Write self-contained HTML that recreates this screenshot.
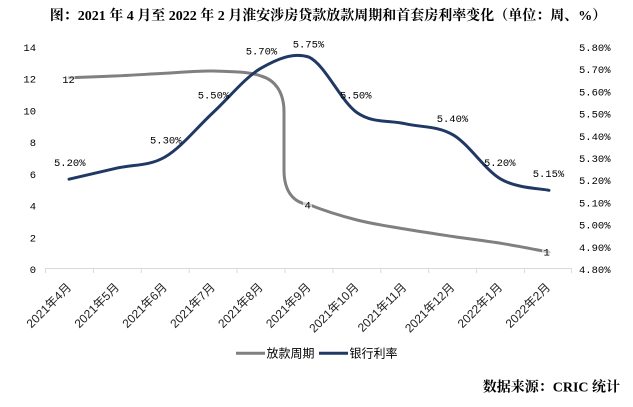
<!DOCTYPE html>
<html><head><meta charset="utf-8"><style>
html,body{margin:0;padding:0;background:#fff;}
svg{display:block;}
.t{font-family:"Liberation Serif","Noto Serif CJK SC",serif;font-weight:bold;}
.m{font-family:"Liberation Mono","Noto Sans CJK SC",monospace;font-size:10.5px;fill:#000;}
.x{font-family:"Liberation Sans","Noto Sans CJK SC",sans-serif;font-size:12px;fill:#222;}
.l{font-family:"Liberation Sans","Noto Sans CJK SC",sans-serif;font-size:12px;fill:#000;}
</style></head><body>
<svg width="633" height="407" viewBox="0 0 633 407" xmlns="http://www.w3.org/2000/svg">
<rect width="633" height="407" fill="#fff"/>
<text class="t" x="328" y="20" text-anchor="middle" font-size="14">图：2021 年 4 月至 2022 年 2 月淮安涉房贷款放款周期和首套房利率变化（单位：周、%）</text>

<!-- left axis labels -->
<g class="m" text-anchor="end">
<text x="36" y="51">14</text>
<text x="36" y="82.7">12</text>
<text x="36" y="114.4">10</text>
<text x="36" y="146.1">8</text>
<text x="36" y="177.9">6</text>
<text x="36" y="209.6">4</text>
<text x="36" y="241.3">2</text>
<text x="36" y="273">0</text>
</g>
<!-- right axis labels -->
<g class="m">
<text x="579" y="51">5.80%</text>
<text x="579" y="73.2">5.70%</text>
<text x="579" y="95.4">5.60%</text>
<text x="579" y="117.6">5.50%</text>
<text x="579" y="139.8">5.40%</text>
<text x="579" y="162">5.30%</text>
<text x="579" y="184.2">5.20%</text>
<text x="579" y="206.4">5.10%</text>
<text x="579" y="228.6">5.00%</text>
<text x="579" y="250.8">4.90%</text>
<text x="579" y="273">4.80%</text>
</g>

<!-- x axis -->
<g stroke="#d9d9d9" stroke-width="1">
<line x1="45" y1="268.5" x2="572" y2="268.5"/>
<line x1="45.5" y1="268" x2="45.5" y2="273"/>
<line x1="93.4" y1="268" x2="93.4" y2="273"/>
<line x1="141.3" y1="268" x2="141.3" y2="273"/>
<line x1="189.2" y1="268" x2="189.2" y2="273"/>
<line x1="237.1" y1="268" x2="237.1" y2="273"/>
<line x1="285" y1="268" x2="285" y2="273"/>
<line x1="332.9" y1="268" x2="332.9" y2="273"/>
<line x1="380.8" y1="268" x2="380.8" y2="273"/>
<line x1="428.7" y1="268" x2="428.7" y2="273"/>
<line x1="476.6" y1="268" x2="476.6" y2="273"/>
<line x1="524.5" y1="268" x2="524.5" y2="273"/>
<line x1="571.5" y1="268" x2="571.5" y2="273"/>
</g>

<!-- x labels -->
<g class="x" text-anchor="end">
<text x="72" y="288" transform="rotate(-45 72 288)">2021年4月</text>
<text x="119.9" y="288" transform="rotate(-45 119.9 288)">2021年5月</text>
<text x="167.8" y="288" transform="rotate(-45 167.8 288)">2021年6月</text>
<text x="215.7" y="288" transform="rotate(-45 215.7 288)">2021年7月</text>
<text x="263.6" y="288" transform="rotate(-45 263.6 288)">2021年8月</text>
<text x="311.5" y="288" transform="rotate(-45 311.5 288)">2021年9月</text>
<text x="359.4" y="288" transform="rotate(-45 359.4 288)">2021年10月</text>
<text x="407.3" y="288" transform="rotate(-45 407.3 288)">2021年11月</text>
<text x="455.2" y="288" transform="rotate(-45 455.2 288)">2021年12月</text>
<text x="503.1" y="288" transform="rotate(-45 503.1 288)">2022年1月</text>
<text x="551" y="288" transform="rotate(-45 551 288)">2022年2月</text>
</g>

<!-- gray series -->
<path fill="none" stroke="#808080" stroke-width="3" stroke-linecap="round" stroke-linejoin="round"
d="M69,77.7 C77,77.4 101,76.6 117,75.9 C133,75.2 149,74.1 165,73.3 C181,72.5 197,70.6 213,71 C229,71.4 249,71.5 261,76 C275,80 284,92 284,112 L284,170 C284,192 294,203 309,204.6 C325,211 341,215.9 357,220 C373,224.1 389,226.3 405,229 C421,231.8 437,234.1 453,236.5 C469,238.9 485,240.7 501,243.3 C517,245.9 541,250.6 549,252.1"/>

<!-- blue series -->
<path fill="none" stroke="#203864" stroke-width="3" stroke-linecap="round" stroke-linejoin="round"
d="M69,179.2 C77,177.4 101,171.8 117,168.1 C133,164.4 149,166.3 165,157 C181,147.8 197,127.4 213,112.6 C229,97.8 245,77.5 261,68.2 C277,59 293,52 309,57.1 C325,64.5 341,101.5 357,112.6 C373,123.7 389,120 405,123.7 C421,127.4 437,125.6 453,134.8 C469,144.1 485,170 501,179.2 C517,188.5 541,188.5 549,190.3"/>

<!-- gray labels -->
<rect x="62" y="73" width="13" height="12" fill="#fff" opacity="0.6"/>
<rect x="303" y="199" width="9" height="12" fill="#fff" opacity="0.6"/>
<rect x="542" y="246" width="9" height="12" fill="#fff" opacity="0.6"/>
<g class="m" text-anchor="middle">
<text x="68.5" y="83">12</text>
<text x="307.7" y="208.7">4</text>
<text x="546.7" y="255.4">1</text>
</g>

<!-- blue labels -->
<g class="m">
<text x="54" y="166">5.20%</text>
<text x="150" y="143.7">5.30%</text>
<text x="197.7" y="98.7">5.50%</text>
<text x="245.7" y="54.7">5.70%</text>
<text x="292.7" y="47.7">5.75%</text>
<text x="340" y="98.7">5.50%</text>
<text x="436.7" y="122">5.40%</text>
<text x="484" y="166">5.20%</text>
<text x="532.7" y="177">5.15%</text>
</g>

<!-- legend -->
<line x1="236" y1="353.3" x2="265" y2="353.3" stroke="#808080" stroke-width="3"/>
<text class="l" x="266.5" y="357.5">放款周期</text>
<line x1="319" y1="353.3" x2="348" y2="353.3" stroke="#203864" stroke-width="3"/>
<text class="l" x="349.5" y="357.5">银行利率</text>

<!-- source -->
<text class="t" x="620" y="391.5" text-anchor="end" font-size="14">数据来源：CRIC 统计</text>
</svg>
</body></html>
